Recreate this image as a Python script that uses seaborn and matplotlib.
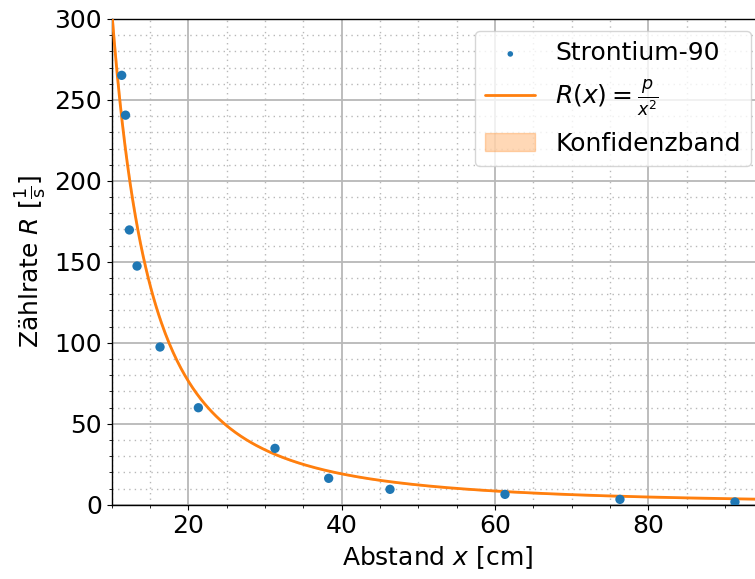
import numpy as np
import matplotlib
matplotlib.use("Agg")
import matplotlib.pyplot as plt
import seaborn as sns
from matplotlib.ticker import MultipleLocator

# Messwerte Strontium-90
abstand = [11.3, 11.8, 12.3, 13.3, 16.3, 21.3, 31.3, 38.3, 46.3, 61.3, 76.3, 91.3]
zaehlrate = [265.2, 240.6, 169.7, 147.4, 97.4, 59.9, 34.8, 16.3, 9.5, 6.4, 3.3, 1.7]

# Fitparameter R(x) = p / x^2 und Unsicherheit
p_fit = 30500.0
p_err = 250.0

sns.set_style("ticks")
plt.rcParams['font.family'] = ['DejaVu Sans']
plt.rcParams['font.size'] = 18
plt.rcParams['mathtext.fontset'] = 'dejavusans'
plt.rcParams['text.color'] = 'black'
plt.rcParams['axes.labelcolor'] = 'black'

fig = plt.figure(figsize=(7.55, 5.79), dpi=100)
ax = fig.add_axes([0.148, 0.1283, 0.863, 0.8389])

x_fit = np.linspace(10, 95, 500)
r_fit = p_fit / x_fit**2

ax.fill_between(x_fit, (p_fit - p_err) / x_fit**2, (p_fit + p_err) / x_fit**2,
                facecolor='#ff7f0e', edgecolor='#ff7f0e', alpha=0.3, lw=1,
                label='Konfidenzband', zorder=2)
sns.lineplot(x=x_fit, y=r_fit, ax=ax, color='#ff7f0e', lw=2,
             label=r'$R(x) = \frac{p}{x^2}$', zorder=3)
sns.scatterplot(x=abstand, y=zaehlrate, ax=ax, color='#1f77b4', s=45,
                edgecolor='none', label='Strontium-90', zorder=4)

ax.set_xlim(10, 95)
ax.set_ylim(0, 300)
ax.xaxis.set_major_locator(MultipleLocator(20))
ax.xaxis.set_minor_locator(MultipleLocator(5))
ax.yaxis.set_major_locator(MultipleLocator(50))
ax.yaxis.set_minor_locator(MultipleLocator(10))
ax.grid(which='major', color='#b8b8b8', lw=1.3)
ax.grid(which='minor', color='#b8b8b8', lw=1.0, ls=(0, (1, 3)))
ax.set_axisbelow(True)
for s in ax.spines.values():
    s.set_color('black')
    s.set_linewidth(1.0)
ax.tick_params(which='both', direction='out', colors='black', labelsize=18)

ax.set_xlabel(r'Abstand $x$ [cm]', fontsize=18)
ax.set_ylabel(r'Zählrate $R$ $[\frac{1}{\mathrm{s}}]$', fontsize=18)

handles, labels = ax.get_legend_handles_labels()
order = [labels.index('Strontium-90'), labels.index(r'$R(x) = \frac{p}{x^2}$'),
         labels.index('Konfidenzband')]
ax.legend([handles[i] for i in order], [labels[i] for i in order],
          loc='upper right', fontsize=18, framealpha=0.8, markerscale=0.6)

fig.savefig('out.png', dpi=100)
